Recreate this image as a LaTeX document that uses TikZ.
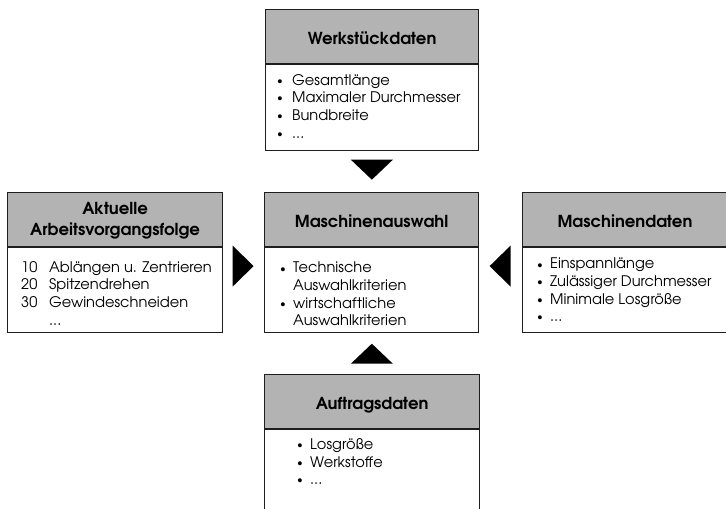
\documentclass[tikz,border=0pt]{standalone}
\usepackage{fontspec}
\setmainfont{TeX Gyre Adventor}
\usetikzlibrary{calc}
\definecolor{headgray}{RGB}{179,179,179}
\definecolor{framecol}{RGB}{30,30,30}
\newcommand{\smallbul}{\raisebox{0.9pt}{\fontsize{11}{11}\selectfont\textbullet}}
\tikzset{
  headbox/.style={draw=framecol, line width=1.2pt, fill=headgray, anchor=north west,
    minimum height=54pt, inner sep=0pt},
  bodybox/.style={draw=framecol, line width=1.2pt, fill=white, anchor=north west, inner sep=0pt},
  title/.style={anchor=base, inner sep=0pt, font=\fontsize{16.5}{20.7}\selectfont\bfseries},
  txt/.style={anchor=base west, inner sep=0pt, font=\fontsize{14.6}{17.6}\selectfont},
  tri/.style={fill=black}
}
\begin{document}
\begin{tikzpicture}[x=1pt, y=-1pt]
  \useasboundingbox (0,0) rectangle (726,509);
  \clip (0,0) rectangle (726,509);

  % Werkstueckdaten (top)
  \node[headbox, minimum width=213pt] (wh) at (265,9) {};
  \node[bodybox, minimum width=213pt, minimum height=86pt] (wb) at (wh.south west) {};
  \node[title] (wtitle) at ($(wh.center)+(0,8)$) {Werkstückdaten};
  \node[txt] (wtext) at ($(wb.north west)+(12,21)$) {\begin{tabular}[t]{@{}p{15pt}@{}l@{}}
    \smallbul & Gesamtlänge\\
    \smallbul & Maximaler Durchmesser\\
    \smallbul & Bundbreite\\
    \smallbul & ...
  \end{tabular}};

  % Aktuelle Arbeitsvorgangsfolge (left)
  \node[headbox, minimum width=215pt] (ah) at (7,192) {};
  \node[bodybox, minimum width=215pt, minimum height=85pt] (ab) at (ah.south west) {};
  \node[title] (atitle) at ($(ah.center)+(0,-4.7)$) {\begin{tabular}[t]{@{}c@{}}Aktuelle\\Arbeitsvorgangsfolge\end{tabular}};
  \node[txt] (atext) at ($(ab.north west)+(14,25)$) {\begin{tabular}[t]{@{}p{28pt}@{}l@{}}
    10 & Ablängen u. Zentrieren\\
    20 & Spitzendrehen\\
    30 & Gewindeschneiden\\
       & ...
  \end{tabular}};

  % Maschinenauswahl (centre)
  \node[headbox, minimum width=214pt] (mh) at (264,192) {};
  \node[bodybox, minimum width=214pt, minimum height=85pt] (mb) at (mh.south west) {};
  \node[title] (mtitle) at ($(mh.center)+(0,8)$) {Maschinenauswahl};
  \node[txt] (mtext) at ($(mb.north west)+(16,25.7)$) {\begin{tabular}[t]{@{}p{13pt}@{}l@{}}
    \smallbul & Technische\\
              & Auswahlkriterien\\
    \smallbul & wirtschaftliche\\
              & Auswahlkriterien
  \end{tabular}};

  % Maschinendaten (right)
  \node[headbox, minimum width=220pt] (dh) at (522,192) {};
  \node[bodybox, minimum width=220pt, minimum height=85pt] (db) at (dh.south west) {};
  \node[title] (dtitle) at ($(dh.north west)+(103,35)$) {Maschinendaten};
  \node[txt] (dtext) at ($(db.north west)+(15,21.7)$) {\begin{tabular}[t]{@{}p{13pt}@{}l@{}}
    \smallbul & Einspannlänge\\
    \smallbul & Zulässiger Durchmesser\\
    \smallbul & Minimale Losgröße\\
    \smallbul & ...
  \end{tabular}};

  % Auftragsdaten (bottom)
  \node[headbox, minimum width=215pt] (oh) at (264,374) {};
  \node[bodybox, minimum width=215pt, minimum height=102pt] (ob) at (oh.south west) {};
  \node[title] (otitle) at ($(oh.center)+(0,8)$) {Auftragsdaten};
  \node[txt] (otext) at ($(ob.north west)+(33,20.3)$) {\begin{tabular}[t]{@{}p{13pt}@{}l@{}}
    \smallbul & Losgröße\\
    \smallbul & Werkstoffe\\
    \smallbul & ...
  \end{tabular}};

  % flow markers into the centre box
  \coordinate (cdown) at ($(wb.south)!0.5!(mh.north)+(0,-1)$);
  \fill[tri] ($(cdown)+(-21,-11)$) -- ($(cdown)+(21,-11)$) -- ($(cdown)+(0,9)$) -- cycle;
  \coordinate (cup) at ($(oh.north)!0.5!(mb.south)$);
  \fill[tri] ($(cup)+(-21,10)$) -- ($(cup)+(21,10)$) -- ($(cup)+(0,-10)$) -- cycle;
  \coordinate (cright) at ($(ah.east)!0.5!(mh.west)+(0,46.5)$);
  \fill[tri] ($(cright)+(-11,-20.5)$) -- ($(cright)+(-11,20.5)$) -- ($(cright)+(10,0)$) -- cycle;
  \coordinate (cleft) at ($(mh.east)!0.5!(dh.west)+(0,46.5)$);
  \fill[tri] ($(cleft)+(10,-20.5)$) -- ($(cleft)+(10,20.5)$) -- ($(cleft)+(-11,0)$) -- cycle;
\end{tikzpicture}
\end{document}
